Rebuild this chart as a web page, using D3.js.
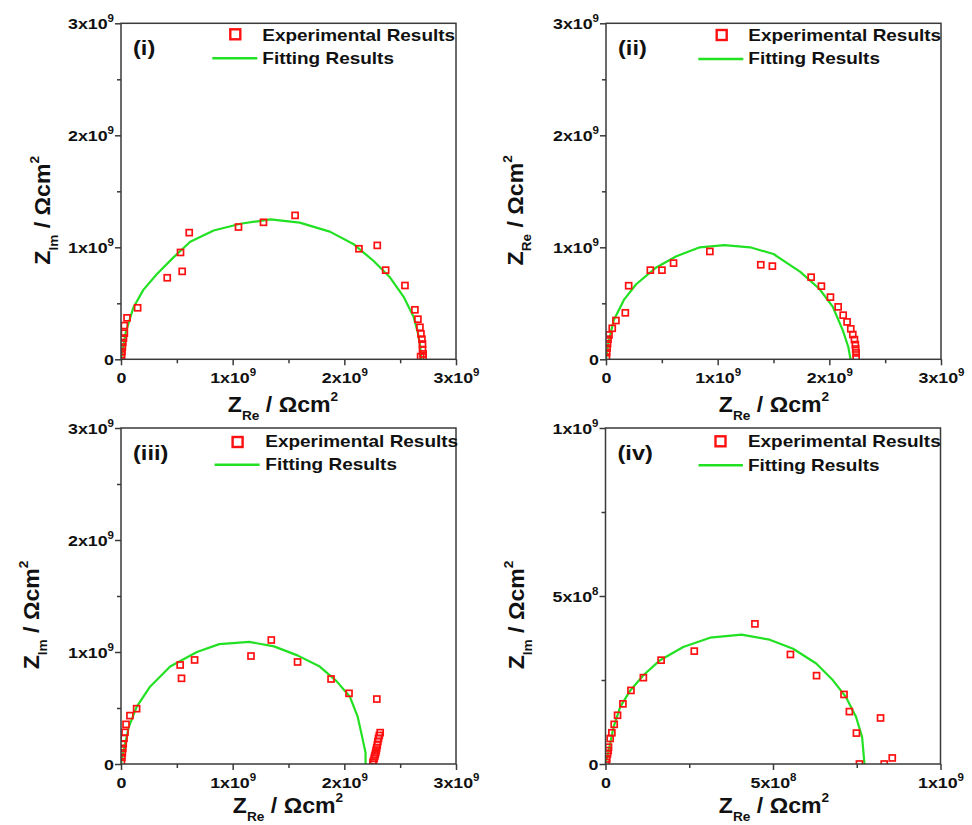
<!DOCTYPE html>
<html>
<head>
<meta charset="utf-8">
<script src="https://cdn.jsdelivr.net/npm/d3@7"></script>
<style>
  body { margin: 0; background: #fff; }
  svg { display: block; font-family: "Liberation Sans", Arial, sans-serif; font-weight: bold; }
</style>
</head>
<body>
<svg id="chart" width="972" height="825"></svg>
<script>
// Nyquist plots: Z_Re vs Z_Im, values in units of 1e9 Ω cm²
const UNIT = 1e9;
const panelNames = ["(i)", "(ii)", "(iii)", "(iv)"];
const yTitleSubs = ["Im", "Re", "Im", "Im"];
const xTitleSub = "Re";
const legendLabels = ["Experimental Results", "Fitting Results"];
const axisMax = [3, 3, 3, 1];

const majorTicks3 = [0, 1, 2, 3];
const minorTicks3 = [0.5, 1.5, 2.5];
const tickLabels3 = ["0", "1x10^9", "2x10^9", "3x10^9"];
const majorTicks1 = [0, 0.5, 1];
const minorTicks1 = [0.25, 0.75];
const tickLabels1 = ["0", "5x10^8", "1x10^9"];

// experimental points [Z_Re, Z_Im]
const expI = [
  [0.003,0.015],[0.005,0.04],[0.008,0.07],[0.012,0.11],[0.016,0.15],[0.022,0.19],
  [0.030,0.233],[0.030,0.301],[0.054,0.370],[0.149,0.460],[0.414,0.728],[0.548,0.785],
  [0.533,0.954],[0.611,1.131],[1.052,1.181],[1.276,1.223],[1.559,1.285],[2.131,0.987],
  [2.295,1.017],[2.370,0.796],[2.543,0.659],[2.632,0.442],[2.659,0.358],[2.677,0.286],
  [2.686,0.227],[2.695,0.180],[2.700,0.137],[2.700,0.087],[2.706,0.048],[2.683,0.024],[2.706,0.020]
];
const expII = [
  [0.004,0.02],[0.006,0.06],[0.010,0.10],[0.014,0.14],[0.018,0.18],[0.027,0.218],
  [0.056,0.277],[0.089,0.346],[0.173,0.415],[0.203,0.657],[0.397,0.796],[0.501,0.796],
  [0.605,0.859],[0.930,0.963],[1.386,0.844],[1.490,0.832],[1.837,0.733],[1.929,0.653],
  [2.010,0.555],[2.079,0.468],[2.124,0.394],[2.159,0.334],[2.192,0.272],[2.210,0.221],
  [2.225,0.176],[2.233,0.131],[2.236,0.092],[2.240,0.057],[2.240,0.018]
];
const expIII = [
  [0.004,0.02],[0.008,0.06],[0.012,0.10],[0.016,0.14],[0.020,0.18],[0.027,0.229],
  [0.036,0.283],[0.045,0.354],[0.080,0.432],[0.140,0.494],[0.542,0.765],[0.530,0.884],
  [0.659,0.929],[1.164,0.964],[1.346,1.107],[1.581,0.911],[1.881,0.759],[2.042,0.631],
  [2.291,0.580],[2.321,0.280],[2.313,0.255],[2.306,0.229],[2.300,0.200],[2.295,0.170],
  [2.290,0.145],[2.286,0.125],[2.282,0.105],[2.277,0.087],[2.272,0.070],[2.268,0.051],
  [2.262,0.030],[2.256,0.012]
];
const expIV = [
  [0.002,0.005],[0.004,0.015],[0.006,0.030],[0.008,0.040],[0.009,0.050],[0.014,0.076],
  [0.019,0.093],[0.026,0.118],[0.036,0.145],[0.052,0.179],[0.076,0.219],[0.113,0.257],
  [0.166,0.309],[0.265,0.336],[0.446,0.417],[0.552,0.326],[0.630,0.263],[0.712,0.207],
  [0.728,0.156],[0.749,0.092],[0.758,0.000],[0.821,0.137],[0.832,0.000],[0.856,0.018]
];

// equivalent-circuit fit curves [Z_Re, Z_Im]
const fitI = [
  [0,0],[0.02,0.11],[0.04,0.23],[0.11,0.46],[0.20,0.62],[0.32,0.76],[0.47,0.91],
  [0.62,1.05],[0.83,1.15],[1.07,1.21],[1.34,1.25],[1.60,1.22],[1.87,1.14],[2.08,1.03],
  [2.26,0.88],[2.41,0.73],[2.53,0.56],[2.62,0.38],[2.66,0.23],[2.68,0.11],[2.69,0.0]
];
const fitII = [
  [0,0],[0.02,0.14],[0.07,0.35],[0.16,0.53],[0.27,0.67],[0.45,0.82],[0.63,0.92],
  [0.84,1.00],[1.06,1.02],[1.29,1.00],[1.50,0.94],[1.74,0.78],[1.91,0.63],[2.03,0.47],
  [2.12,0.26],[2.17,0.11],[2.19,0.0]
];
const fitIII = [
  [0,0],[0.03,0.15],[0.07,0.33],[0.14,0.51],[0.26,0.69],[0.44,0.87],[0.68,1.00],
  [0.88,1.07],[1.15,1.09],[1.37,1.05],[1.58,0.97],[1.78,0.87],[1.93,0.74],[2.05,0.60],
  [2.12,0.42],[2.16,0.24],[2.19,0.10],[2.19,0.0]
];
const fitIV = [
  [0,0],[0.012,0.051],[0.024,0.110],[0.044,0.170],[0.074,0.219],[0.113,0.264],
  [0.163,0.309],[0.232,0.348],[0.312,0.376],[0.406,0.385],[0.490,0.370],[0.560,0.343],
  [0.629,0.299],[0.679,0.249],[0.718,0.199],[0.748,0.140],[0.766,0.080],[0.773,0.0]
];

const experimental = [expI, expII, expIII, expIV];
const fits = [fitI, fitII, fitIII, fitIV];

// panel geometry
const W = 335, H = 336;
const layout = [
  { left: 121,   top: 23.3, yTitleX: 50,  xTitleX: 283, xTitleDy: 53, sq: [114.3, 11],   ln: [91.3, 136.3, 35],   tx: 141.3, b1: 17.5, b2: 40.8 },
  { left: 606,   top: 23.3, yTitleX: 523, xTitleX: 774, xTitleDy: 53, sq: [115.7, 11.7], ln: [92.3, 137.3, 35.7], tx: 142.3, b1: 17.7, b2: 41 },
  { left: 121,   top: 428,  yTitleX: 39,  xTitleX: 288, xTitleDy: 49, sq: [116.6, 14],   ln: [93.6, 138.6, 36.7], tx: 144.3, b1: 19,   b2: 42.3 },
  { left: 605.5, top: 428,  yTitleX: 524, xTitleX: 774, xTitleDy: 49, sq: [115, 13.3],   ln: [93, 137.4, 37.3],   tx: 142.4, b1: 19,   b2: 43.3 }
];

const SX = 1.15;            // horizontal text stretch
const RED = "#ff1010", GREEN = "#22e022", AXIS = "#3a3a3a";
const svg = d3.select("#chart");

function addSup(textSel, label, supSize, rise) {
  const parts = label.split("^");
  textSel.append("tspan").text(parts[0]);
  if (parts.length > 1) {
    textSel.append("tspan").attr("font-size", supSize).attr("dy", -rise).text(parts[1]);
  }
}

function titleSpans(t, sub) {
  t.append("tspan").text("Z");
  t.append("tspan").attr("font-size", 13).attr("dy", 8).text(sub);
  t.append("tspan").attr("dy", -8).text(" / Ωcm");
  t.append("tspan").attr("font-size", 13).attr("dy", -11).text("2");
}

layout.forEach((L, i) => {
  const max = axisMax[i];
  const x = d3.scaleLinear().domain([0, max * UNIT]).range([0, W]);
  const y = d3.scaleLinear().domain([0, max * UNIT]).range([H, 0]);
  const majors = (max === 3 ? majorTicks3 : majorTicks1).map(v => v * UNIT);
  const minors = (max === 3 ? minorTicks3 : minorTicks1).map(v => v * UNIT);
  const labels = max === 3 ? tickLabels3 : tickLabels1;

  const g = svg.append("g").attr("transform", `translate(${L.left},${L.top})`);

  svg.append("clipPath").attr("id", `plot-clip-${i}`)
    .append("rect").attr("width", W).attr("height", H);

  // minor ticks
  g.append("g").attr("transform", `translate(0,${H})`)
    .call(d3.axisBottom(x).tickValues(minors).tickSize(4).tickFormat(""))
    .call(a => a.select(".domain").remove());
  g.append("g")
    .call(d3.axisLeft(y).tickValues(minors).tickSize(4).tickFormat(""))
    .call(a => a.select(".domain").remove());

  // major ticks with labels
  const xa = g.append("g").attr("transform", `translate(0,${H})`)
    .call(d3.axisBottom(x).tickValues(majors).tickSize(6).tickFormat(""))
    .call(a => a.select(".domain").remove());
  const ya = g.append("g")
    .call(d3.axisLeft(y).tickValues(majors).tickSize(6).tickFormat(""))
    .call(a => a.select(".domain").remove());
  g.selectAll(".tick line").attr("stroke", AXIS).attr("stroke-width", 1.5);

  xa.selectAll(".tick").each(function(d, k) {
    const t = d3.select(this).select("text")
      .attr("y", null).attr("dy", null)
      .attr("transform", `translate(0,24) scale(${SX},1)`)
      .attr("text-anchor", "middle").attr("fill", "#111").attr("font-size", 15.5);
    addSup(t, labels[k], 10, 7);
  });
  ya.selectAll(".tick").each(function(d, k) {
    const t = d3.select(this).select("text")
      .attr("x", null).attr("dy", null)
      .attr("transform", `translate(-7,5.5) scale(${SX},1)`)
      .attr("text-anchor", "end").attr("fill", "#111").attr("font-size", 15.5);
    addSup(t, labels[k], 10, 7);
  });

  // data layer clipped to the plot frame
  const plot = g.append("g").attr("clip-path", `url(#plot-clip-${i})`);

  // fit curve
  const line = d3.line().x(d => x(d[0] * UNIT)).y(d => y(d[1] * UNIT));
  plot.append("path").datum(fits[i]).attr("d", line)
    .attr("fill", "none").attr("stroke", GREEN).attr("stroke-width", 2.2)
    .attr("stroke-linejoin", "round");

  // experimental squares
  const s = 6;
  plot.append("g").selectAll("rect").data(experimental[i]).join("rect")
    .attr("x", d => x(d[0] * UNIT) - s / 2).attr("y", d => y(d[1] * UNIT) - s / 2)
    .attr("width", s).attr("height", s)
    .attr("fill", "none").attr("stroke", RED).attr("stroke-width", 1.7);

  // frame
  g.append("rect").attr("width", W).attr("height", H)
    .attr("fill", "none").attr("stroke", AXIS).attr("stroke-width", 1.5);

  // panel label
  g.append("text").attr("transform", `translate(12,31.5) scale(${SX},1)`)
    .attr("font-size", 20.5).attr("fill", "#111").text(panelNames[i]);

  // legend
  const ls = 10;
  g.append("rect").attr("x", L.sq[0] - ls / 2).attr("y", L.sq[1] - ls / 2)
    .attr("width", ls).attr("height", ls)
    .attr("fill", "none").attr("stroke", RED).attr("stroke-width", 2.4);
  g.append("line").attr("x1", L.ln[0]).attr("x2", L.ln[1]).attr("y1", L.ln[2]).attr("y2", L.ln[2])
    .attr("stroke", GREEN).attr("stroke-width", 2.4);
  [L.b1, L.b2].forEach((b, k) => {
    g.append("text").attr("transform", `translate(${L.tx},${b}) scale(${SX},1)`)
      .attr("font-size", 16.5).attr("fill", "#111").text(legendLabels[k]);
  });

  // axis titles
  const xt = svg.append("text")
    .attr("transform", `translate(${L.xTitleX},${L.top + H + L.xTitleDy}) scale(1.05,1)`)
    .attr("text-anchor", "middle").attr("font-size", 22).attr("fill", "#111");
  titleSpans(xt, xTitleSub);
  const yt = svg.append("text")
    .attr("transform", `translate(${L.yTitleX},${L.top + H / 2 + 19}) rotate(-90) scale(1.05,1)`)
    .attr("text-anchor", "middle").attr("font-size", 22).attr("fill", "#111");
  titleSpans(yt, yTitleSubs[i]);
});
</script>
</body>
</html>
